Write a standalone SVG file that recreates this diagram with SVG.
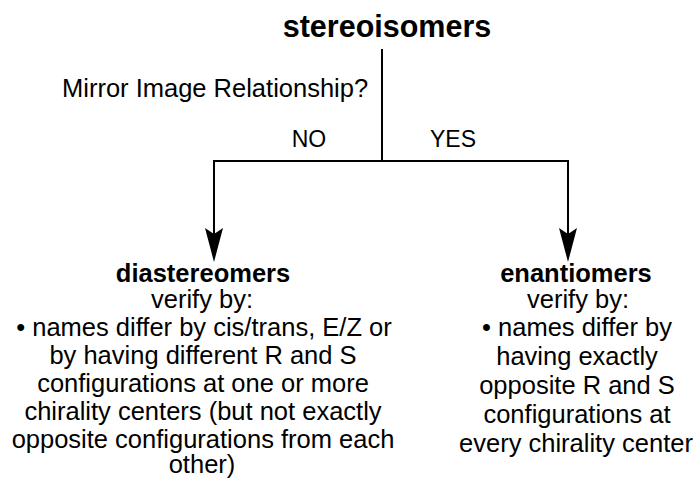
<svg xmlns="http://www.w3.org/2000/svg" width="698" height="479" viewBox="0 0 698 479">
<style>
  text { font-family: "Liberation Sans", Arial, Helvetica, sans-serif; fill: #000; text-anchor: middle; }
  .title { font-size: 30.5px; font-weight: bold; }
  .head { font-size: 25.5px; font-weight: bold; }
  .body { font-size: 25.5px; }
  .lbl { font-size: 23px; }
  .conn { stroke: #000; stroke-width: 2; fill: none; }
</style>
<defs>
  <marker id="arrow" viewBox="0 0 34 18" refX="27" refY="9" markerWidth="34" markerHeight="18" markerUnits="userSpaceOnUse" orient="auto">
    <path d="M0,0 L34,9 L0,18 L6,9 Z" fill="#000"/>
  </marker>
</defs>
<rect width="698" height="479" fill="#fff"/>
<g id="connectors">
  <line class="conn" x1="382" y1="49" x2="382" y2="162"/>
  <path class="conn" d="M382,161 H214 V255" marker-end="url(#arrow)"/>
  <path class="conn" d="M382,161 H568 V255" marker-end="url(#arrow)"/>
  <text class="body" x="62" y="97" style="text-anchor:start">Mirror Image Relationship?</text>
  <text class="lbl" x="309" y="147">NO</text>
  <text class="lbl" x="453" y="147">YES</text>
</g>
<g id="stereoisomers">
  <text class="title" x="387" y="37">stereoisomers</text>
</g>
<g id="diastereomers">
  <text class="head" x="203" y="282">diastereomers</text>
  <text class="body" x="202" y="308">verify by:</text>
  <text class="body" x="204" y="336">• names differ by cis/trans, E/Z or</text>
  <text class="body" x="203" y="364">by having different R and S</text>
  <text class="body" x="203" y="392">configurations at one or more</text>
  <text class="body" x="203" y="420">chirality centers (but not exactly</text>
  <text class="body" x="203" y="448">opposite configurations from each</text>
  <text class="body" x="202" y="473">other)</text>
</g>
<g id="enantiomers">
  <text class="head" x="576" y="282">enantiomers</text>
  <text class="body" x="578" y="308">verify by:</text>
  <text class="body" x="577" y="336">• names differ by</text>
  <text class="body" x="577" y="365">having exactly</text>
  <text class="body" x="577" y="394">opposite R and S</text>
  <text class="body" x="577" y="423">configurations at</text>
  <text class="body" x="576" y="452">every chirality center</text>
</g>
</svg>
